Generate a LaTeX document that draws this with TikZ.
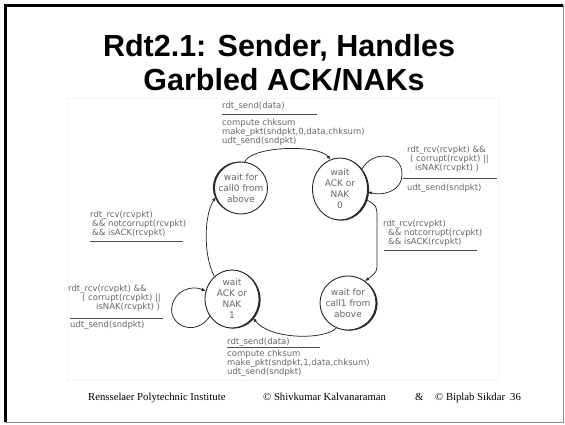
\documentclass[tikz,border=0pt]{standalone}
\usepackage{fontspec}
\setmainfont{Liberation Serif}
\setsansfont{Liberation Sans}
\newfontfamily\fsmfont{DejaVu Sans}
\usetikzlibrary{arrows.meta,shapes.geometric,shadows}

\begin{document}
\begin{tikzpicture}[x=1pt,y=-1pt,
  state/.style={ellipse,draw=black!85,line width=0.9pt,fill=white,inner sep=-6pt,align=center,
    font=\fsmfont\fontsize{9}{11}\selectfont,text=black!60},
  shadowR/.style={drop shadow={shadow xshift=1.6pt,shadow yshift=-0.6pt,fill=black!85,opacity=1}},
  shadowL/.style={drop shadow={shadow xshift=-1.6pt,shadow yshift=0.4pt,fill=black!85,opacity=1}},
  lbl/.style={anchor=north west,inner sep=0pt,align=left,
    font=\fsmfont\fontsize{8.5}{8.8}\selectfont,text=black!60},
  tr/.style={draw=black!85,line width=0.75pt,-{Latex[length=4pt,width=3.4pt]}},
  rule/.style={draw=black!70,line width=1pt},
  foot/.style={anchor=base west,inner sep=0pt,font=\fontsize{10.7}{13}\selectfont},
  ttl/.style={anchor=base,inner sep=0pt,font=\sffamily\bfseries\fontsize{30.5}{34}\selectfont}]

\useasboundingbox (0,0) rectangle (565,424);

% slide frame
\draw[black!45,line width=0.8pt] (5,422) -- (563,422) -- (563,5);
\draw[line width=2.4pt] (5.3,422) -- (5.3,5.3) -- (563,5.3);

% faint frame of the figure area
\draw[black!4,line width=0.5pt] (67,98) rectangle (498,380);

% title
\node[ttl] (t1) at (279,56) {Rdt2.1: Sender, Handles};
\node[ttl] (t2) at (284,90) {Garbled ACK/NAKs};

% states
\node[state,shadowL,minimum width=53pt,minimum height=52pt] (s1) at (241,188) {wait for\\call0 from\\above};
\node[state,shadowR,minimum width=55pt,minimum height=62pt] (s2) at (340,189) {wait\\ACK or\\NAK\\0};
\node[state,shadowR,minimum width=54pt,minimum height=58pt] (s3) at (232,299) {wait\\ACK or\\NAK\\1};
\node[state,shadowR,minimum width=56pt,minimum height=54pt] (s4) at (348,303) {wait for\\call1 from\\above};

% transitions
\draw[tr] (s1.82) .. controls (252,146) and (318,144) .. (s2.108);
\draw[tr] (s2.42) .. controls (372,150) and (402,152) .. (402,174)
          .. controls (402,192) and (382,196) .. (s2.-6);
\draw[tr] (s2.-22) .. controls (377,206) .. (377,218) -- (377,262)
          .. controls (377,272) .. (s4.52);
\draw[tr] (s4.245) .. controls (325,340) and (270,340) .. (s3.-42);
\draw[tr] (s3.218) .. controls (195,338) and (168,325) .. (172,306)
          .. controls (175,290) and (192,285) .. (s3.163);
\draw[tr] (s3.128) .. controls (203,255) and (204,215) .. (s1.200);

% transition labels
\node[lbl] (la) at (222,102) {rdt\_send(data)};
\draw[rule] (222,114) -- (317,114);
\node[lbl] (lab) at (222,119) {compute chksum\\make\_pkt(sndpkt,0,data,chksum)\\udt\_send(sndpkt)};

\node[lbl] (lb) at (407,146) {rdt\_rcv(rcvpkt) \&\&\\\hspace*{3pt}( corrupt(rcvpkt) ||\\\hspace*{8pt}isNAK(rcvpkt) )};
\draw[rule] (403,178) -- (497,178);
\node[lbl] (lbb) at (407,184) {udt\_send(sndpkt)};

\node[lbl] (lc) at (90,211) {rdt\_rcv(rcvpkt)\\\hspace*{2pt}\&\& notcorrupt(rcvpkt)\\\hspace*{2pt}\&\& isACK(rcvpkt)};
\draw[rule] (90,241) -- (183,241);

\node[lbl] (ld) at (383,220) {rdt\_rcv(rcvpkt)\\\hspace*{5pt}\&\& notcorrupt(rcvpkt)\\\hspace*{5pt}\&\& isACK(rcvpkt)};
\draw[rule] (384,250) -- (477,250);

\node[lbl] (le) at (68,285) {rdt\_rcv(rcvpkt) \&\&\\\hspace*{14pt}( corrupt(rcvpkt) ||\\\hspace*{28pt}isNAK(rcvpkt) )};
\draw[rule] (70,318) -- (163,318);
\node[lbl] (leb) at (70,321) {udt\_send(sndpkt)};

\node[lbl] (lf) at (227,338) {rdt\_send(data)};
\draw[rule] (227,347) -- (320,347);
\node[lbl] (lfb) at (227,350) {compute chksum\\make\_pkt(sndpkt,1,data,chksum)\\udt\_send(sndpkt)};

% footer
\node[foot] (f1) at (88,400) {Rensselaer Polytechnic Institute};
\node[foot] (f2) at (263,400) {© Shivkumar Kalvanaraman};
\node[foot] (f3) at (415,400) {\&};
\node[foot] (f4) at (435,400) {© Biplab Sikdar};
\node[foot] (f5) at (510,400) {36};
\end{tikzpicture}
\end{document}
